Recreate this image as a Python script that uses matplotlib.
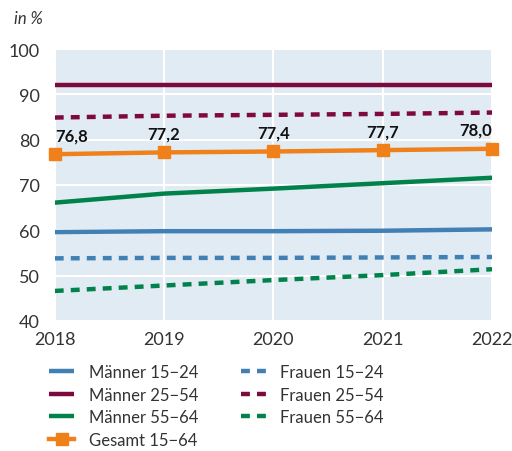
import matplotlib.pyplot as plt
import numpy as np

years = [2018, 2019, 2020, 2021, 2022]
maenner_15_24 = [59.6, 59.8, 59.8, 59.9, 60.2]
maenner_25_54 = [92.0, 92.0, 92.0, 92.0, 92.0]
maenner_55_64 = [66.1, 68.1, 69.2, 70.4, 71.6]
frauen_15_24 = [53.8, 53.9, 53.9, 54.0, 54.1]
frauen_25_54 = [84.9, 85.3, 85.5, 85.7, 86.0]
frauen_55_64 = [46.6, 47.8, 49.0, 50.1, 51.4]
gesamt_15_64 = [76.8, 77.2, 77.4, 77.7, 78.0]
gesamt_labels = ["76,8", "77,2", "77,4", "77,7", "78,0"]

blue = "#4180b4"
maroon = "#7d0a3c"
green = "#00824a"
orange = "#f0801a"

plt.rcParams['font.family'] = ['Lato', 'DejaVu Sans']

fig = plt.figure(figsize=(5.12, 4.52), dpi=100)
ax = fig.add_axes([0.107, 0.288, 0.854, 0.601])
ax.set_facecolor("#e1ebf4")

lw = 3.2
dash = (2.0, 1.6)
ax.plot(years, maenner_15_24, color=blue, lw=lw, label="Männer 15−24", solid_capstyle="butt")
ax.plot(years, maenner_25_54, color=maroon, lw=lw, label="Männer 25−54", solid_capstyle="butt")
ax.plot(years, maenner_55_64, color=green, lw=lw, label="Männer 55−64", solid_capstyle="butt")
ax.plot(years, gesamt_15_64, color=orange, lw=lw, marker="s", markersize=9,
        label="Gesamt 15−64", zorder=5, clip_on=False)
ax.plot(years, frauen_15_24, color=blue, lw=lw, ls=(0, dash), label="Frauen 15−24", dash_capstyle="butt")
ax.plot(years, frauen_25_54, color=maroon, lw=lw, ls=(0, dash), label="Frauen 25−54", dash_capstyle="butt")
ax.plot(years, frauen_55_64, color=green, lw=lw, ls=(0, dash), label="Frauen 55−64", dash_capstyle="butt")

# erstes Label links-, letztes rechtsbündig
aligns = ["left", "center", "center", "center", "right"]
for x, y, t, ha in zip(years, gesamt_15_64, gesamt_labels, aligns):
    ax.annotate(t, (x, y), xytext=(0, 8), textcoords="offset points", ha=ha,
                va="bottom", fontsize=12, fontweight="bold", color="#111111")

ax.set_xlim(2018, 2022)
ax.set_ylim(40, 100)
ax.set_xticks(years)
ax.set_yticks(np.arange(40, 101, 10))
ax.grid(True, color="white", lw=1.5)
ax.set_axisbelow(True)
for s in ax.spines.values():
    s.set_visible(False)
ax.tick_params(length=0, labelsize=13, colors="#333333", pad=7)
ax.tick_params(axis="y", pad=11)

fig.text(0.027, 0.958, "in %", fontsize=12, style="italic", color="#333333", va="center")

handles, labels = ax.get_legend_handles_labels()
fig.legend(handles, labels, ncol=2, loc="upper left", bbox_to_anchor=(0.09, 0.2),
           frameon=False, fontsize=12, handlelength=1.5, columnspacing=2.6,
           labelspacing=0.4, handletextpad=0.85, labelcolor="#333333",
           borderaxespad=0, borderpad=0.2)

fig.savefig("out.png", dpi=100)
